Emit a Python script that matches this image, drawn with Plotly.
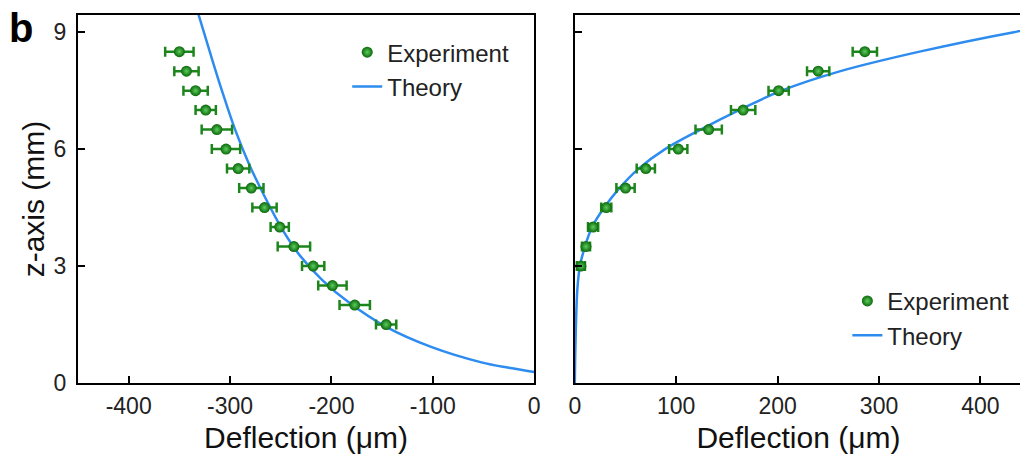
import plotly.graph_objects as go

# left panel (negative deflection)
left_z = [1.5, 2.0, 2.5, 3.0, 3.5, 4.0, 4.5, 5.0, 5.5, 6.0, 6.5, 7.0, 7.5, 8.0, 8.5]
left_x = [-146, -177, -199, -218, -237, -251, -266, -279, -292, -304, -313, -324, -334, -343, -350]
left_err = [10, 15, 14, 11, 16, 9, 12, 12, 11, 14, 15, 10, 12, 12, 14]

left_theory_z = [0.28, 0.39, 0.53, 0.92, 1.44, 2.05, 2.64, 3.3, 3.92, 4.74, 5.6, 6.5, 7.5, 8.5, 9.7]
left_theory_x = [0, -25, -52, -101, -146, -182, -209, -232, -248, -265, -281, -295, -308, -320, -334]

# right panel (positive deflection)
right_z = [3.0, 3.5, 4.0, 4.5, 5.0, 5.5, 6.0, 6.5, 7.0, 7.5, 8.0, 8.5]
right_x = [6, 11, 18, 31, 50, 70, 102, 132, 166, 201, 240, 286]
right_err = [4, 4, 5, 5, 9, 9, 9, 13, 12, 10, 11, 12]

right_theory_z = [0, 0.6, 1.4, 2.4, 3.0, 3.5, 4.0, 4.5, 5.0, 5.5, 6.0, 6.5, 7.0, 7.5, 8.0, 8.5, 9.0, 9.2]
right_theory_x = [0, 0.3, 1, 2.5, 5, 10, 17, 29, 44, 63, 89, 124, 162, 204, 262, 340, 433, 480]

left_ticks = [-400, -300, -200, -100, 0]
left_ticktext = ["-400", "-300", "-200", "-100", "0"]
right_ticks = [0, 100, 200, 300, 400]
z_ticks = [0, 3, 6, 9]

FONT = "Arial, Liberation Sans, sans-serif"
GREEN = "#1c861c"
BLUE = "#2e8cf0"

fig = go.Figure()


def add_panel(xa, ya, tx, tz, ex, ez, err, legend):
    fig.add_trace(go.Scatter(
        x=tx, y=tz, mode="lines", name="Theory", line=dict(color=BLUE, width=2.5, shape="spline"),
        xaxis=xa, yaxis=ya, legend=legend
    ))
    fig.add_trace(go.Scatter(
        x=ex, y=ez, mode="markers", name="Experiment",
        marker=dict(size=11, color="#0a680a", gradient=dict(type="radial", color="#5ccc5c"),
                    line=dict(width=0)),
        error_x=dict(type="data", array=err, color=GREEN, thickness=2.5, width=5),
        xaxis=xa, yaxis=ya, legend=legend
    ))


add_panel("x", "y", left_theory_x, left_theory_z, left_x, left_z, left_err, "legend")
add_panel("x2", "y2", right_theory_x, right_theory_z, right_x, right_z, right_err, "legend2")

axis_common = dict(
    showline=True, linecolor="black", linewidth=2,
    ticks="inside", ticklen=7, tickwidth=2, tickcolor="black",
    showgrid=False, zeroline=False,
    tickfont=dict(family=FONT, size=23, color="#222"),
)
title_font = dict(family=FONT, size=30, color="#111")
legend_font = dict(family=FONT, size=24, color="#222")

# page body adds an 8px offset, so the figure is 8px smaller and margins shifted
fig.update_layout(
    width=1020, height=447,
    margin=dict(l=70, r=0, t=7, b=72),
    paper_bgcolor="white", plot_bgcolor="white",
    xaxis=dict(domain=[0, 0.4832], range=[-450, 0], tickvals=left_ticks, ticktext=left_ticktext,
               mirror=True, ticklabelstandoff=1,
               title=dict(text="Deflection (μm)", font=title_font, standoff=9), **axis_common),
    yaxis=dict(domain=[0, 1], range=[0, 9.44], tickvals=z_ticks, mirror=True, ticklabelstandoff=5,
               title=dict(text="z-axis (mm)", font=title_font, standoff=0), **axis_common),
    xaxis2=dict(domain=[0.5263, 1], range=[0, 441], tickvals=right_ticks, anchor="y2",
                mirror=True, ticklabelstandoff=1,
                title=dict(text="Deflection (μm)", font=title_font, standoff=9), **axis_common),
    yaxis2=dict(domain=[0, 1], range=[0, 9.44], tickvals=z_ticks, anchor="x2", mirror=False,
                showticklabels=False, **axis_common),
    legend=dict(x=0.2852, y=0.959, xanchor="left", yanchor="top", traceorder="reversed",
                bgcolor="rgba(0,0,0,0)", font=legend_font),
    legend2=dict(x=0.815, y=0.283, xanchor="left", yanchor="top", traceorder="reversed",
                 bgcolor="rgba(0,0,0,0)", font=legend_font),
    annotations=[dict(text="b", xref="paper", yref="paper", x=-0.06, y=0.965,
                      xanchor="center", yanchor="middle", showarrow=False,
                      font=dict(family=FONT, size=40, color="black", weight="bold"))],
)

fig.write_html("out.html")
